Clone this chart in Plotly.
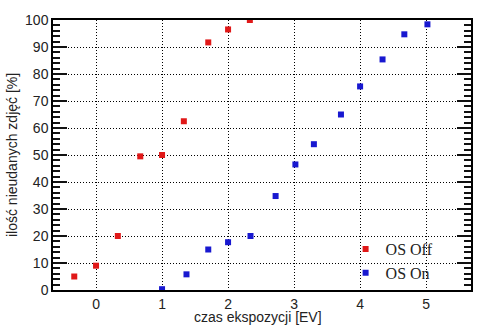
import plotly.graph_objects as go

off_x = [-0.33, 0, 0.33, 0.67, 1.0, 1.33, 1.7, 2.0, 2.33]
off_y = [5, 9, 20, 49.5, 50, 62.5, 91.7, 96.5, 100]
on_x = [1.0, 1.37, 1.7, 2.0, 2.34, 2.72, 3.02, 3.3, 3.71, 4.0, 4.34, 4.67, 5.02]
on_y = [0.3, 5.8, 15, 17.7, 20, 34.8, 46.5, 54, 65, 75.4, 85.4, 94.7, 98.4]

fig = go.Figure()
fig.add_trace(go.Scatter(x=off_x, y=off_y, mode="markers", name="OS Off",
                         marker=dict(symbol="square", size=6, color="#e01818")))
fig.add_trace(go.Scatter(x=on_x, y=on_y, mode="markers", name="OS On",
                         marker=dict(symbol="square", size=6, color="#1818d0")))

tickfont = dict(family="Liberation Sans, Arial", size=14, color="#222")
fig.update_layout(
    width=494, height=331,
    margin=dict(l=53, r=23, t=20, b=41, autoexpand=False),
    paper_bgcolor="white", plot_bgcolor="white",
    legend=dict(x=0.7, y=0.0, xanchor="left", yanchor="bottom",
                bgcolor="rgba(0,0,0,0)",
                font=dict(family="Liberation Serif, Times New Roman", size=16, color="#222"),
                itemwidth=30),
    xaxis=dict(range=[-0.652, 5.68], tickvals=[0, 1, 2, 3, 4, 5], ticks="",
               showline=True, linecolor="black", linewidth=1.5, mirror=True,
               showgrid=True, gridcolor="black", gridwidth=1, griddash="1px,2px",
               zeroline=False, tickfont=tickfont),
    yaxis=dict(range=[0, 100], dtick=10, ticks="inside", ticklen=14, tickwidth=1.5,
               tickcolor="#111111",
               minor=dict(dtick=2, ticks="inside", ticklen=7, tickcolor="#111111"),
               showline=True, linecolor="black", linewidth=1.5, mirror="ticks",
               showgrid=True, gridcolor="black", gridwidth=1, griddash="1px,2px",
               zeroline=False, tickfont=tickfont),
    annotations=[
        dict(text="czas ekspozycji [EV]", xref="paper", yref="paper", x=0.49, y=-0.1,
             xanchor="center", yanchor="middle", showarrow=False, font=tickfont),
        dict(text="ilość nieudanych zdjęć [%]", xref="paper", yref="paper", x=-0.098, y=0.5,
             xanchor="center", yanchor="middle", textangle=-90, showarrow=False, font=tickfont),
    ],
)
fig.write_html("out.html")
